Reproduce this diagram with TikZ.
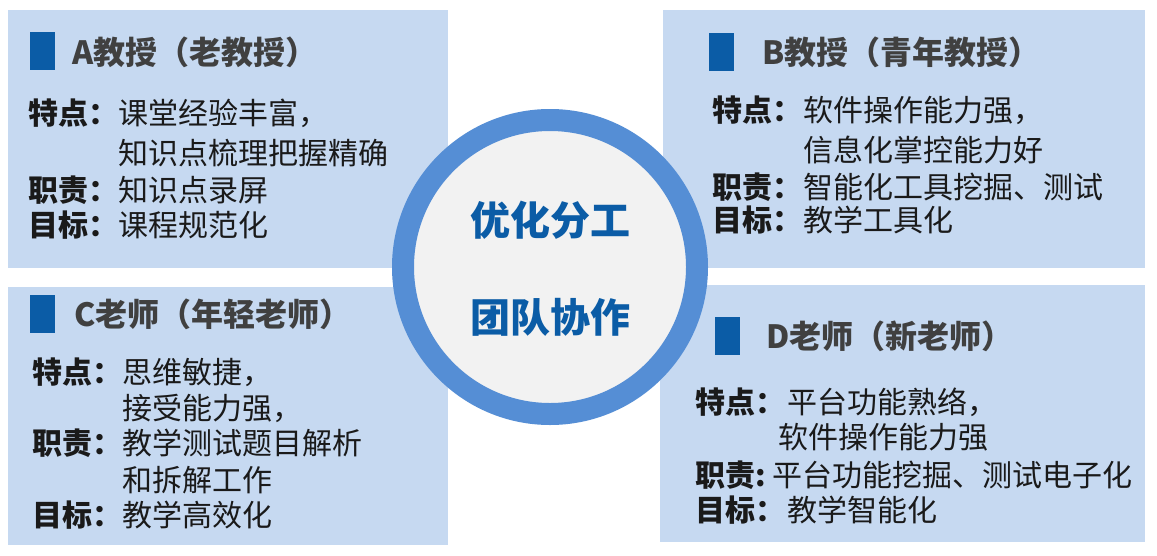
\documentclass[tikz,border=0pt]{standalone}
\usepackage{fontspec}
\setmainfont{Noto Sans CJK SC}
\usepackage{xcolor}
\definecolor{boxblue}{HTML}{C6D9F1}
\definecolor{ringblue}{HTML}{558ED5}
\definecolor{markblue}{HTML}{0B5CA6}
\definecolor{hubgray}{HTML}{F2F2F2}
\definecolor{titlegray}{HTML}{404040}
\definecolor{bodyblack}{HTML}{1A1A1A}
\tikzset{
  panel/.style={rectangle,fill=boxblue,draw=none,anchor=north west,inner sep=0pt},
  tag/.style={rectangle,fill=markblue,draw=none,anchor=north west,inner sep=0pt,minimum width=25pt,minimum height=38pt},
  title/.style={anchor=west,inner sep=0pt,text=titlegray,font=\bfseries\fontsize{32}{38}\selectfont},
  lbl/.style={anchor=west,inner sep=0pt,text=bodyblack,font=\bfseries\fontsize{30}{36}\selectfont},
  txt/.style={anchor=west,inner sep=0pt,text=bodyblack,font=\fontsize{30}{36}\selectfont},
  hubtext/.style={inner sep=0pt,text=markblue,font=\bfseries\fontsize{40}{48}\selectfont}
}
\begin{document}
\begin{tikzpicture}[x=1pt,y=-1pt]
\useasboundingbox[fill=white] (0,0) rectangle (1157,555);
% four panels
\node[panel,minimum width=440pt,minimum height=258pt] (pa) at (8,10) {};
\node[panel,minimum width=482pt,minimum height=258pt] (pb) at (663,10) {};
\node[panel,minimum width=440pt,minimum height=258pt] (pc) at (8,287) {};
\node[panel,minimum width=485pt,minimum height=257pt] (pd) at (660,285) {};

% A
\node[tag] (ma) at (30,32) {};
\node[title] (ta) at (72,52) {A教授（老教授）};
\node[lbl] (a1) at (28,113) {特点：};
\node[txt] (a1t) at (118,113) {课堂经验丰富，};
\node[txt] (a2t) at (118,153) {知识点梳理把握精确};
\node[lbl] (a3) at (28,190) {职责：};
\node[txt] (a3t) at (118,190) {知识点录屏};
\node[lbl] (a4) at (28,225) {目标：};
\node[txt] (a4t) at (118,225) {课程规范化};

% B
\node[tag] (mb) at (709,33) {};
\node[title] (tb) at (762,52) {B教授（青年教授）};
\node[lbl] (b1) at (712,110) {特点：};
\node[txt] (b1t) at (803,110) {软件操作能力强，};
\node[txt] (b2t) at (803,150) {信息化掌控能力好};
\node[lbl] (b3) at (712,187) {职责：};
\node[txt] (b3t) at (803,187) {智能化工具挖掘、测试};
\node[lbl] (b4) at (712,220) {目标：};
\node[txt] (b4t) at (803,220) {教学工具化};

% C
\node[tag] (mc) at (30,295) {};
\node[title] (tc) at (74,314) {C老师（年轻老师）};
\node[lbl] (c1) at (32,372) {特点：};
\node[txt] (c1t) at (122,372) {思维敏捷，};
\node[txt] (c2t) at (122,408) {接受能力强，};
\node[lbl] (c3) at (32,443) {职责：};
\node[txt] (c3t) at (122,443) {教学测试题目解析};
\node[txt] (c4t) at (122,480) {和拆解工作};
\node[lbl] (c5) at (32,515) {目标：};
\node[txt] (c5t) at (122,515) {教学高效化};

% D
\node[tag] (md) at (715,317) {};
\node[title] (td) at (766,336) {D老师（新老师）};
\node[lbl] (d1) at (695,402) {特点：};
\node[txt] (d1t) at (787,402) {平台功能熟络，};
\node[txt] (d2t) at (778,437) {软件操作能力强};
\node[lbl] (d3) at (695,475) {职责:};
\node[txt] (d3t) at (772,475) {平台功能挖掘、测试电子化};
\node[lbl] (d4) at (695,510) {目标：};
\node[txt] (d4t) at (787,510) {教学智能化};

% hub
\node[circle,draw=ringblue,line width=22pt,fill=hubgray,inner sep=0pt,minimum size=294pt] (hub) at (550,267) {};
\node[hubtext] (h1) at (550,220) {优化分工};
\node[hubtext] (h2) at (550,317) {团队协作};
\end{tikzpicture}
\end{document}
